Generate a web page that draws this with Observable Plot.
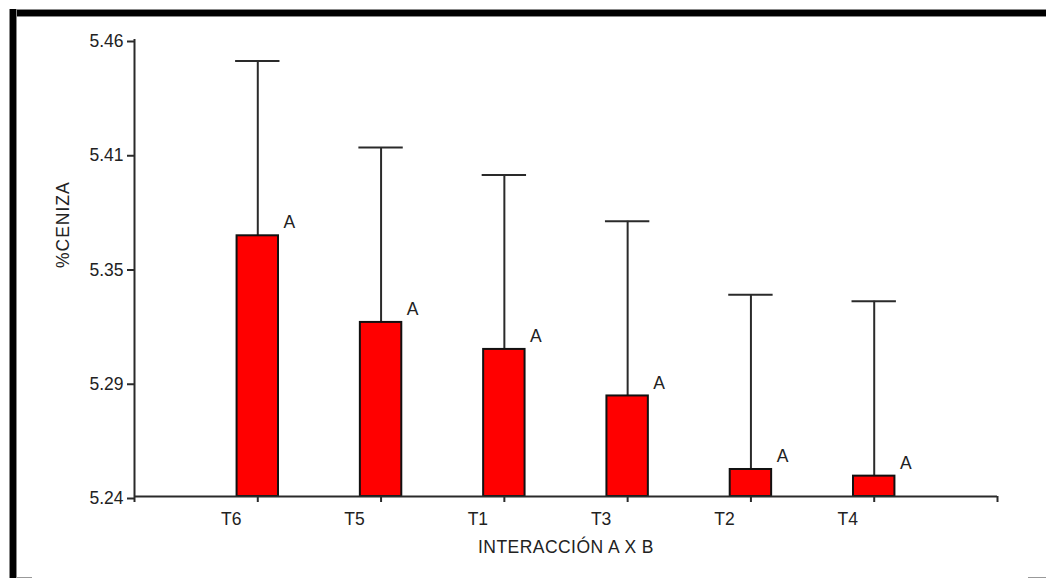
<!DOCTYPE html>
<html><head><meta charset="utf-8">
<script src="https://cdn.jsdelivr.net/npm/d3@7"></script>
<script src="https://cdn.jsdelivr.net/npm/@observablehq/plot@0.6"></script>
<style>
html,body{margin:0;padding:0;background:#fff;}
body{width:1046px;height:578px;overflow:hidden;position:relative;font-family:Arial,"Liberation Sans",sans-serif;}
#chart{position:absolute;left:0;top:0;}
.bt{position:absolute;left:9px;top:9px;width:1037px;height:6px;background:#000;border-top:1px solid #888;border-bottom:1px solid #888;}
.bl{position:absolute;left:9px;top:9px;width:6px;height:569px;background:#000;border-left:1px solid #888;border-right:1px solid #888;}
.g1{position:absolute;left:16px;top:577px;width:16px;height:1px;background:#999;}
.g2{position:absolute;left:1028px;top:577px;width:18px;height:1px;background:#999;}
</style>
</head><body>
<div id="chart"></div>
<div class="bt"></div><div class="bl"></div><div class="g1"></div><div class="g2"></div>
<script>
const categories = ["T6","T5","T1","T3","T2","T4"];
const means = [5.3655, 5.3238, 5.3108, 5.2884, 5.2530, 5.2498];
const upper = [5.4497, 5.4080, 5.3948, 5.3725, 5.3371, 5.3340];
const letters = ["A","A","A","A","A","A"];
const yTicks = [5.24, 5.295, 5.35, 5.405, 5.46];
const yTickLabels = ["5.24","5.29","5.35","5.41","5.46"];
const xTitle = "INTERACCIÓN A X B";
const yTitle = "%CENIZA";

const yMin = yTicks[0], yMax = yTicks[yTicks.length - 1];
const data = categories.map((c, i) => ({cat: c, pos: i + 1, mean: means[i], upper: upper[i], letter: letters[i]}));
const xTickPos = d3.range(categories.length + 2);
const half = 0.168, capHalf = 0.18;
const ink = "#2a2a2a";

const plot = Plot.plot({
  width: 1046, height: 578,
  marginLeft: 134, marginRight: 49, marginTop: 39, marginBottom: 82,
  style: {fontFamily: "Arial, 'Liberation Sans', sans-serif", fontSize: "17.5px", color: "#222", background: "transparent", overflow: "visible"},
  x: {domain: [0, categories.length + 1]},
  y: {domain: [yMin, yMax]},
  marks: [
    Plot.ruleX(data, {x: "pos", y1: "mean", y2: "upper", stroke: ink, strokeWidth: 2}),
    Plot.ruleY(data, {y: "upper", x1: d => d.pos - capHalf, x2: d => d.pos + capHalf, stroke: ink, strokeWidth: 2}),
    Plot.rectY(data, {x1: d => d.pos - half, x2: d => d.pos + half, y1: () => yMin, y2: "mean", fill: "#ff0000", stroke: "#111", strokeWidth: 2}),
    Plot.text(data, {x: d => d.pos + half, y: "mean", text: "letter", dx: 5, dy: -7.4, textAnchor: "start", lineAnchor: "bottom", fill: "#222"}),
    Plot.ruleX([0], {stroke: ink, strokeWidth: 2}),
    Plot.ruleY([yMin], {stroke: ink, strokeWidth: 2}),
    Plot.axisY(yTicks, {tickSize: 7, tickPadding: 4, tickFormat: d => yTickLabels[yTicks.indexOf(d)], stroke: ink, strokeWidth: 2, dy: 2, label: null}),
    Plot.axisX(xTickPos, {tickSize: 6, tickFormat: () => "", stroke: ink, strokeWidth: 2, label: null}),
    Plot.text(data, {x: "pos", text: "cat", frameAnchor: "bottom", dx: -26.5, dy: 16, lineAnchor: "top", fill: "#222"}),
    Plot.text([xTitle], {frameAnchor: "bottom", dy: 56, lineAnchor: "bottom", fill: "#222"}),
    Plot.text([yTitle], {frameAnchor: "left", dx: -66, rotate: -90, lineAnchor: "bottom", fill: "#222"})
  ]
});
d3.select(plot).selectAll("text")
  .filter(function() { const t = this.textContent; return t === xTitle || t === yTitle; })
  .style("letter-spacing", function() { return this.textContent === yTitle ? "1px" : "0.45px"; });
document.getElementById("chart").appendChild(plot);
</script>
</body></html>
